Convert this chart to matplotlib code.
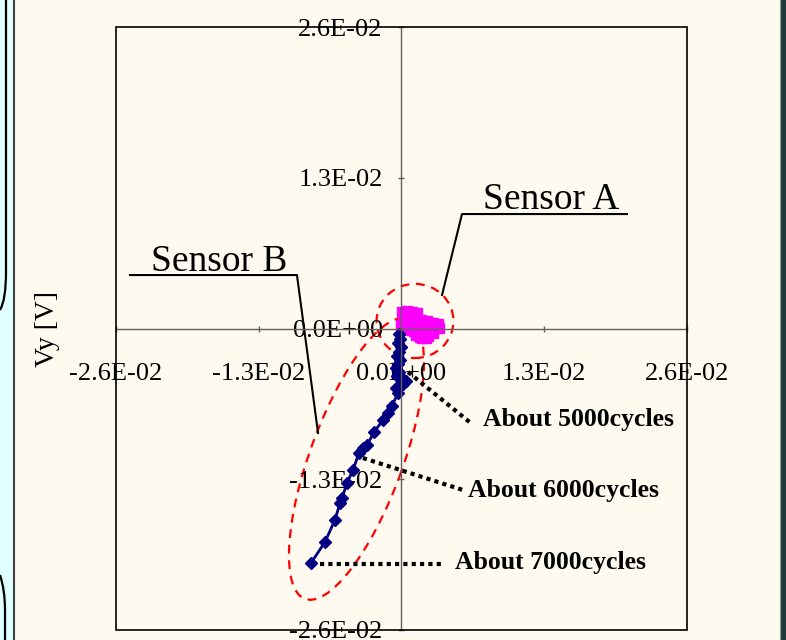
import matplotlib
matplotlib.use('Agg')
import matplotlib.pyplot as plt
from matplotlib.patches import Ellipse, Rectangle, PathPatch
from matplotlib.path import Path
from matplotlib.ticker import FuncFormatter

plt.rcParams['font.family'] = ['Liberation Serif', 'DejaVu Serif']

# Sensor A (magenta cluster around the origin)
sensor_a_x = [0.00005, 0.00050, 0.00096, 0.00141, 0.00023, 0.00077, 0.00123, 0.00178,
              0.00232, 0.00287, 0.00332, 0.00342, 0.00296, 0.00250, 0.00196, 0.00141,
              0.00087, 0.00032, -0.00005, 0.00041, 0.00096, 0.00150, 0.00196, 0.00250,
              0.00287, 0.00241, 0.00187, 0.00132, 0.00168, 0.00223, 0.00114, 0.00014]
sensor_a_y = [0.00142, 0.00151, 0.00142, 0.00134, 0.00099, 0.00108, 0.00091, 0.00073,
              0.00065, 0.00047, 0.00039, 0.00004, 0.00004, 0.00022, 0.00039, 0.00056,
              0.00065, 0.00065, 0.00030, 0.00013, 0.00013, -0.00004, -0.00030, -0.00030,
              -0.00039, -0.00065, -0.00082, -0.00056, -0.00073, -0.00082, -0.00022, -0.00013]

# Sensor B (navy path drifting down-left with cycles)
sensor_b_x = [-0.00023, -0.00014, -0.00032, -0.00005, -0.00023, -0.00041, -0.00014, -0.00032,
              -0.00050, -0.00023, -0.00041, 0.00005, 0.00041, -0.00005, -0.00050, 0.00014,
              -0.00032, -0.00087, -0.00123, -0.00168, -0.00250, -0.00314, -0.00351, -0.00387,
              -0.00442, -0.00496, -0.00542, -0.00560, -0.00606, -0.00697, -0.00824]
sensor_b_y = [-0.00047, -0.00091, -0.00125, -0.00160, -0.00203, -0.00237, -0.00272, -0.00306,
              -0.00341, -0.00375, -0.00410, -0.00427, -0.00453, -0.00487, -0.00513, -0.00479,
              -0.00556, -0.00668, -0.00729, -0.00789, -0.00893, -0.01005, -0.01031, -0.01074,
              -0.01220, -0.01332, -0.01462, -0.01505, -0.01651, -0.01841, -0.02022]

ticks = [-0.026, -0.013, 0.0, 0.013, 0.026]
cycle_labels = ['About 5000cycles', 'About 6000cycles', 'About 7000cycles']

W, H = 786, 640
bg = '#FFFAF0'
fig = plt.figure(figsize=(W / 100, H / 100), dpi=100, facecolor=bg)


def fx(x):
    return x / W


def fy(y):
    return 1 - y / H


# slide decoration on the edges
fig.add_artist(Rectangle((0, 0), fx(14), 1, transform=fig.transFigure,
                         facecolor='#E0FFFF', edgecolor='none'))
fig.add_artist(plt.Line2D([fx(14.5), fx(14.5)], [0, 1], transform=fig.transFigure,
                          color='#404040', lw=1.5))
verts = [(fx(6), fy(0)), (fx(6), fy(272)), (fx(6), fy(300)), (fx(0), fy(310))]
codes = [Path.MOVETO, Path.LINETO, Path.CURVE3, Path.CURVE3]
fig.add_artist(PathPatch(Path(verts, codes), transform=fig.transFigure,
                         facecolor='none', edgecolor='black', lw=1.6))
verts = [(fx(0), fy(575)), (fx(5), fy(590)), (fx(5), fy(610)), (fx(5), fy(640))]
codes = [Path.MOVETO, Path.CURVE3, Path.CURVE3, Path.LINETO]
fig.add_artist(PathPatch(Path(verts, codes), transform=fig.transFigure,
                         facecolor='none', edgecolor='black', lw=1.6))
fig.add_artist(Rectangle((fx(781), 0), fx(5), 1, transform=fig.transFigure,
                         facecolor='#1F3A3A', edgecolor='none'))
fig.add_artist(plt.Line2D([fx(779.5), fx(779.5)], [0, 1], transform=fig.transFigure,
                          color='#9A9A9A', lw=0.8))

ax = fig.add_axes([fx(116), fy(630), 571 / W, 603 / H])
ax.set_facecolor(bg)
ax.set_xlim(-0.026, 0.026)
ax.set_ylim(-0.026, 0.026)

for side in ['top', 'right']:
    ax.spines[side].set_visible(False)
for side in ['left', 'bottom']:
    ax.spines[side].set_position(('data', 0))
    ax.spines[side].set_color('#606060')
    ax.spines[side].set_linewidth(1.0)
ax.add_patch(Rectangle((0, 0), 1, 1, transform=ax.transAxes, fill=False,
                       edgecolor='black', lw=1.2, clip_on=False, zorder=3))

fmt = FuncFormatter(lambda v, p: f'{v:.1E}')
ax.set_xticks(ticks)
ax.set_yticks(ticks)
ax.xaxis.set_major_formatter(fmt)
ax.yaxis.set_major_formatter(fmt)
ax.tick_params(axis='both', direction='inout', length=5, width=1, color='#606060',
               labelsize=19)
ax.tick_params(axis='x', pad=22)
ax.tick_params(axis='y', pad=11)
for lab in ax.get_xticklabels() + ax.get_yticklabels():
    lab.set_clip_on(False)

fig.text(fx(48), fy(329), 'Vy [V]', rotation=90, ha='center', va='center', fontsize=20)

# dashed ellipses
ax.add_patch(Ellipse((0.00123, 0.00065), 0.00700, 0.00640, fill=False,
                     edgecolor='#FF0000', lw=1.6, ls=(0, (4, 3)), zorder=1))
ax.add_patch(Ellipse((-0.0041, -0.01125), 0.0259, 0.0084, angle=68.5, fill=False,
                     edgecolor='#FF0000', lw=1.6, ls=(0, (4, 3)), zorder=1))

ax.plot(sensor_a_x, sensor_a_y, color='#FF00FF', marker='s', markersize=7,
        lw=2, zorder=2, clip_on=False)
ax.plot(sensor_b_x, sensor_b_y, color='#000080', marker='D', markersize=6.5,
        lw=2, zorder=2, clip_on=False)

# sensor callouts
ax.plot([0.02053, 0.00551, 0.00369], [0.00987, 0.00987, 0.00289], color='black', lw=1.5)
ax.text(0.01361, 0.01031, 'Sensor A', fontsize=27, ha='center', va='baseline')
ax.plot([-0.02472, -0.00952, -0.00760], [0.00461, 0.00461, -0.00901], color='black', lw=1.5)
ax.text(-0.01662, 0.00496, 'Sensor B', fontsize=27, ha='center', va='baseline')

# cycle callouts
leaders = [((0.00059, -0.00375), (0.00642, -0.00824), (0.00742, -0.00789)),
           ((-0.00351, -0.01117), (0.00560, -0.01393), (0.00606, -0.01401)),
           ((-0.00743, -0.02031), (0.00378, -0.02031), (0.00487, -0.02014))]
for label, (p0, p1, pt) in zip(cycle_labels, leaders):
    ax.plot([p0[0], p1[0]], [p0[1], p1[1]], color='black', lw=3, ls=(0, (1, 1)),
            zorder=2.6)
    ax.text(pt[0], pt[1], label, fontsize=18.5, fontweight='bold', ha='left', va='center')

fig.savefig('out.png', dpi=100, facecolor=bg)
